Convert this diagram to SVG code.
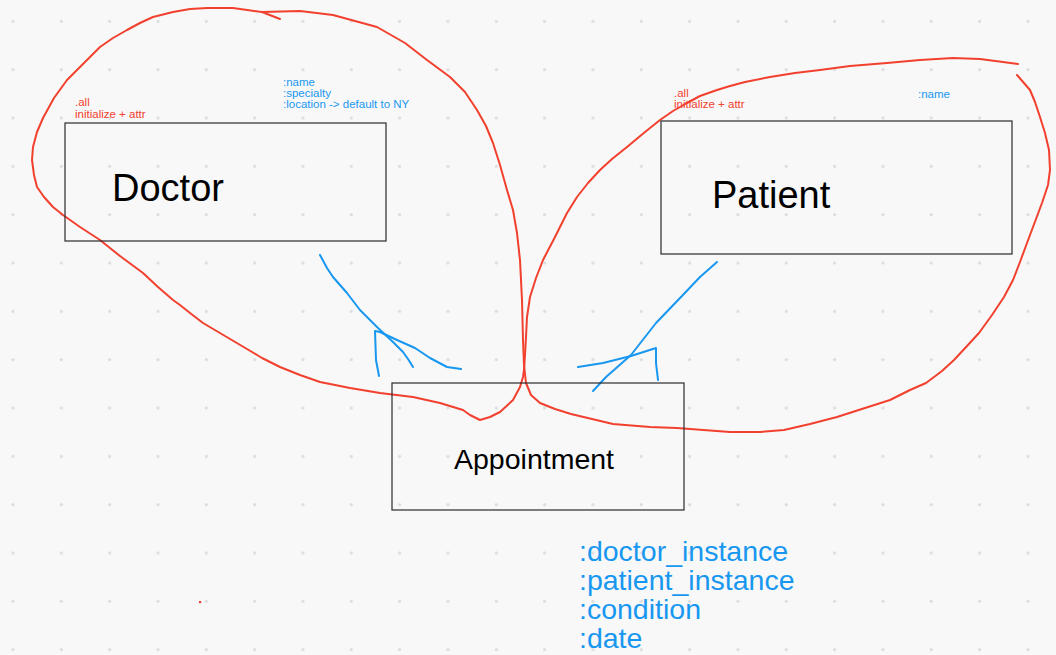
<svg xmlns="http://www.w3.org/2000/svg" width="1056" height="655" viewBox="0 0 1056 655">
<style>
.bg{fill:#f8f8f8}
.box{fill:none;stroke:#2b2b2b;stroke-width:1.2}
.red{fill:none;stroke:#f2402e;stroke-width:2;stroke-linecap:round;stroke-linejoin:round}
.blue{fill:none;stroke:#1897f0;stroke-width:2;stroke-linecap:round;stroke-linejoin:round}
.title{font-family:"Liberation Sans",Arial,sans-serif;fill:#000}
.note{font-family:"Liberation Sans",Arial,sans-serif;font-size:11.5px}
.rt{fill:#f2402e}
.bt{fill:#1897f0}
.big{font-family:"Liberation Sans",Arial,sans-serif;font-size:28.5px;fill:#1897f0}
</style>
<defs>
<pattern id="grid" patternUnits="userSpaceOnUse" x="-11.17" y="-2.87" width="48.33" height="48.33">
<circle cx="24.17" cy="24.17" r="1.6" fill="#dcdcdc"/>
</pattern>
</defs>
<rect class="bg" x="0" y="0" width="1056" height="655"/>
<rect x="0" y="0" width="1056" height="655" fill="url(#grid)"/>
<rect x="199" y="601" width="2.2" height="2.2" fill="#f2402e"/>

<g id="connectors">
<path class="red" d="M280,19 L262,12 L300,11 L333,15 L377,27 L405,43 L427,60 L450,77 L465,92 L477,110 L486,126 L493,143 L500,165 L507,190 L513,210 L517,233 L520,260 L522,300 L523,340 L524,365 L526,383 L531,395 L540,403 L555,409 L571,414 L613,424 L650,427 L677,428 L730,432 L760,432 L784,430 L810,424 L837,417 L865,408 L890,400 L910,390 L926,383 L942,371 L954,360 L967,346 L979,333 L992,315 L1004,297 L1013,280 L1020,262 L1027,243 L1033,227 L1042,203 L1048,185 L1050,170 L1049,150 L1045,133 L1040,117 L1035,102 L1030,90 L1017,75"/>
<path class="red" d="M1018,64 L1003,62 L980,59 L953,58 L920,60 L887,63 L850,66 L820,70 L795,73 L770,77 L745,82 L730,86 L717,90 L700,96 L687,103 L673,111 L660,120 L645,132 L627,147 L612,159 L600,170 L588,183 L577,197 L567,213 L555,237 L543,260 L536,278 L530,297 L527,317 L526,337 L525,355 L524,370 L523,377 L520,387 L513,400 L500,412 L490,417 L480,420 L470,415 L463,410 L440,403 L413,397 L380,393 L350,388 L320,382 L300,375 L280,367 L262,358 L247,349 L225,336 L203,323 L190,313 L180,305 L173,300 L158,287 L143,273 L120,256 L100,240 L80,227 L63,215 L53,207 L44,197 L37,187 L34,175 L32,160 L33,147 L37,132 L43,118 L54,98 L67,80 L83,64 L100,47 L113,38 L127,30 L140,23 L153,17 L173,12 L190,9 L207,8 L233,8 L262,12"/>
<path class="blue" d="M320,255 L327,268 L333,277 L347,293 L360,310 L377,327 L393,342 L403,352 L408,359 L413,367"/>
<path class="blue" d="M379,376 L376,360 L375,331 L380,332 L397,340 L415,348 L430,358 L447,367 L461,369"/>
<path class="blue" d="M717,262 L700,277 L681,297 L656,323 L631,355 L606,377 L593,391"/>
<path class="blue" d="M578,367 L603,363 L631,356 L656,348 L656,363 L658,380"/>
</g>

<g id="doctor">
<rect class="box" x="65" y="123" width="321" height="118"/>
<text class="title" x="112" y="200.5" font-size="38">Doctor</text>
<text class="note rt" x="75" y="106">.all</text>
<text class="note rt" x="75" y="117.5">initialize + attr</text>
<text class="note bt" x="283" y="86">:name</text>
<text class="note bt" x="283" y="97">:specialty</text>
<text class="note bt" x="283" y="108">:location -&gt; default to NY</text>
</g>

<g id="patient">
<rect class="box" x="661" y="121" width="351" height="133"/>
<text class="title" x="712" y="208" font-size="38">Patient</text>
<text class="note rt" x="674" y="97">.all</text>
<text class="note rt" x="674" y="107.5">initialize + attr</text>
<text class="note bt" x="918" y="98">:name</text>
</g>

<g id="appointment">
<rect class="box" x="392" y="383" width="292" height="127"/>
<text class="title" x="454" y="469" font-size="28.5">Appointment</text>
<text class="big" x="579" y="561">:doctor_instance</text>
<text class="big" x="579" y="590">:patient_instance</text>
<text class="big" x="579" y="619">:condition</text>
<text class="big" x="579" y="648">:date</text>
</g>
</svg>
